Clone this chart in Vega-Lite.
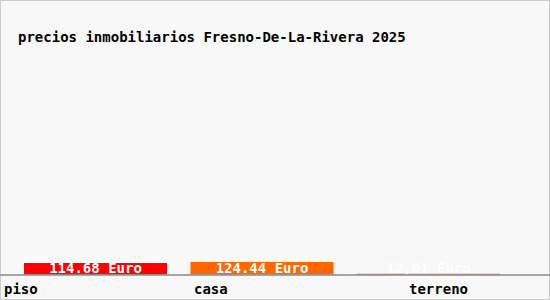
{
  "$schema": "https://vega.github.io/schema/vega-lite/v6.json",
  "width": 550,
  "height": 300,
  "autosize": {"type": "none"},
  "padding": 0,
  "background": "#f8f8f8",
  "title": {
    "text": "precios inmobiliarios Fresno-De-La-Rivera 2025",
    "anchor": "start",
    "orient": "top",
    "frame": "group",
    "offset": -56,
    "dx": 18,
    "baseline": "alphabetic",
    "font": "DejaVu Sans Mono",
    "fontSize": 14,
    "fontWeight": "bold",
    "color": "#000000"
  },
  "data": {
    "values": [
      {"tipo": "piso", "precio": 114.68, "etiqueta": "114.68 Euro"},
      {"tipo": "casa", "precio": 124.44, "etiqueta": "124.44 Euro"},
      {"tipo": "terreno", "precio": 12.01, "etiqueta": "12,01 Euro"}
    ]
  },
  "encoding": {
    "x": {
      "field": "tipo",
      "type": "nominal",
      "sort": ["piso", "casa", "terreno"],
      "scale": {"range": [0, 524], "paddingInner": 0.141, "paddingOuter": 0.144},
      "axis": {
        "title": null,
        "orient": "bottom",
        "offset": -25,
        "domain": false,
        "ticks": false,
        "labelAngle": 0,
        "labelAlign": "left",
        "labelBaseline": "middle",
        "labelPadding": 14,
        "labelFont": "DejaVu Sans Mono",
        "labelFontSize": 14,
        "labelFontWeight": "bold",
        "labelColor": "#000000",
        "labelOffset": {
          "condition": [
            {"test": "datum.value === 'piso'", "value": -91.5},
            {"test": "datum.value === 'casa'", "value": -68}
          ],
          "value": -19.5
        }
      }
    }
  },
  "layer": [
    {
      "mark": {"type": "bar"},
      "encoding": {
        "y": {
          "field": "precio",
          "type": "quantitative",
          "scale": {"domain": [0, 2000], "range": [275, 66], "nice": false},
          "axis": null
        },
        "color": {
          "field": "tipo",
          "type": "nominal",
          "scale": {"domain": ["piso", "casa", "terreno"], "range": ["#ff0000", "#ff6600", "#d65432"]},
          "legend": null
        }
      }
    },
    {
      "mark": {"type": "text", "color": "#ffffff", "font": "DejaVu Sans Mono", "fontSize": 14, "fontWeight": "bold", "baseline": "alphabetic", "align": "center", "dy": -2},
      "encoding": {
        "y": {"datum": 0, "type": "quantitative"},
        "text": {"field": "etiqueta"}
      }
    },
    {
      "mark": {"type": "rule", "color": "#999999", "strokeWidth": 1},
      "encoding": {
        "y": {"datum": 0, "type": "quantitative"},
        "x": null
      }
    }
  ],
  "config": {
    "view": {"stroke": "#cccccc", "strokeWidth": 2}
  }
}
